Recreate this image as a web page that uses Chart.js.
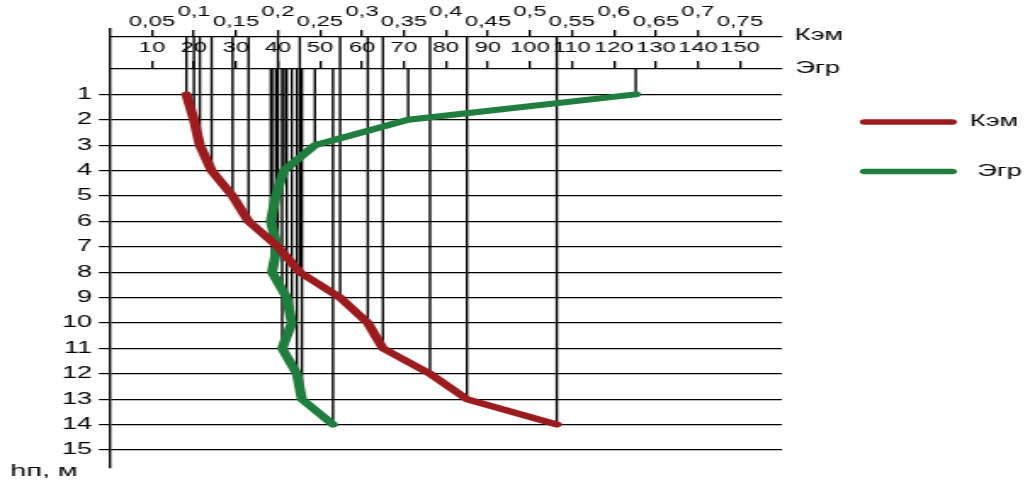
<!DOCTYPE html>
<html>
<head>
<meta charset="utf-8">
<script src="https://cdn.jsdelivr.net/npm/chart.js@4.4.1/dist/chart.umd.min.js"></script>
<style>
  html, body { margin: 0; padding: 0; background: #fff; overflow: hidden; }
  #wrap { width: 1030px; height: 483px; }
  /* the original picture is stretched sideways, so draw narrow and stretch */
  #profileChart { transform: scaleX(1.6997); transform-origin: 0 0; }
</style>
</head>
<body>
<div id="wrap"><canvas id="profileChart" width="606" height="483" style="width:606px;height:483px"></canvas></div>
<script>
const depth = [1, 2, 3, 4, 5, 6, 7, 8, 9, 10, 11, 12, 13, 14];
const kem = [0.091, 0.1, 0.107, 0.121, 0.146, 0.165, 0.2, 0.226, 0.274, 0.307, 0.325, 0.381, 0.425, 0.532];
const egr = [125.2, 71, 48.8, 41.4, 39.5, 38.3, 39.8, 38.6, 42.1, 43.3, 41, 44.5, 45.7, 53.1];

const depthTicks = [1, 2, 3, 4, 5, 6, 7, 8, 9, 10, 11, 12, 13, 14, 15];
const egrTicks = [10, 20, 30, 40, 50, 60, 70, 80, 90, 100, 110, 120, 130, 140, 150];
const kemTicks = [0.05, 0.1, 0.15, 0.2, 0.25, 0.3, 0.35, 0.4, 0.45, 0.5, 0.55, 0.6, 0.65, 0.7, 0.75];

Chart.defaults.font.family = '"Liberation Sans", Arial, sans-serif';
Chart.defaults.color = "#000";

const extras = {
  id: "extras",
  beforeDatasetsDraw(chart) {
    const ctx = chart.ctx;
    const area = chart.chartArea;
    ctx.save();
    ctx.strokeStyle = "#000";
    ctx.lineWidth = 1.4;
    // drop lines from each point up to its own axis
    chart.data.datasets.forEach((ds, i) => {
      const top = ds.xAxisID === "xk" ? chart.scales.xk.bottom : area.top;
      chart.getDatasetMeta(i).data.forEach((pt) => {
        ctx.beginPath();
        ctx.moveTo(pt.x, pt.y);
        ctx.lineTo(pt.x, top);
        ctx.stroke();
      });
    });
    ctx.restore();
  },
  afterDraw(chart) {
    const ctx = chart.ctx;
    const area = chart.chartArea;
    const kemLine = chart.scales.xk.bottom;
    ctx.save();
    // left axis goes up through both top scales
    ctx.strokeStyle = "#000";
    ctx.lineWidth = 1.4;
    ctx.beginPath();
    ctx.moveTo(area.left, kemLine - 9);
    ctx.lineTo(area.left, area.top);
    ctx.stroke();

    ctx.fillStyle = "#000";
    ctx.textBaseline = "middle";
    ctx.textAlign = "left";
    ctx.font = '16px "Liberation Sans", Arial, sans-serif';
    ctx.fillText("Кэм", area.right + 7.6, kemLine - 1.5);
    ctx.fillText("Эгр", area.right + 8, area.top - 0.5);

    ctx.font = '17px "Liberation Sans", Arial, sans-serif';
    ctx.fillText("hп, м", 6, 471);

    // legend
    chart.data.datasets.forEach((ds, i) => {
      const y = 122 + i * 49.5;
      ctx.strokeStyle = ds.borderColor;
      ctx.lineWidth = 5.5;
      ctx.lineCap = "round";
      ctx.beginPath();
      ctx.moveTo(508.6, y);
      ctx.lineTo(560.2, y);
      ctx.stroke();
      ctx.font = '16px "Liberation Sans", Arial, sans-serif';
      ctx.fillText(ds.label, i === 0 ? 570.6 : 575, y);
    });
    ctx.restore();
  },
};

const ctx = document.getElementById("profileChart").getContext("2d");

profileChart = new Chart(ctx, {
  type: "line",
  data: {
    datasets: [
      {
        label: "Кэм",
        data: depth.map((d, i) => ({ x: kem[i], y: d })),
        xAxisID: "xk",
        yAxisID: "y",
        borderColor: "#9b1b1f",
        borderWidth: 6,
        borderCapStyle: "round",
        borderJoinStyle: "round",
        pointRadius: 0,
        fill: false,
      },
      {
        label: "Эгр",
        data: depth.map((d, i) => ({ x: egr[i], y: d })),
        xAxisID: "xe",
        yAxisID: "y",
        borderColor: "#1f7d3d",
        borderWidth: 6,
        borderCapStyle: "round",
        borderJoinStyle: "round",
        pointRadius: 0,
        fill: false,
      },
    ],
  },
  options: {
    responsive: false,
    animation: false,
    devicePixelRatio: 1,
    layout: { padding: { left: 0, right: 146, top: 0, bottom: 15 } },
    plugins: {
      legend: { display: false },
      tooltip: { enabled: false },
    },
    scales: {
      y: {
        type: "linear",
        position: "left",
        reverse: true,
        min: 0,
        max: 15.71,
        afterBuildTicks: (scale) => {
          scale.ticks = depthTicks.map((v) => ({ value: v }));
        },
        afterFit: (scale) => {
          scale.width = 64.7;
        },
        ticks: {
          font: { size: 16 },
          padding: 4,
        },
        grid: {
          color: "#000",
          lineWidth: 1.2,
          tickLength: 6.5,
        },
        border: { color: "#000", width: 1.4 },
      },
      xe: {
        type: "linear",
        position: "top",
        weight: 0,
        min: 0,
        max: 160,
        afterBuildTicks: (scale) => {
          scale.ticks = egrTicks.map((v) => ({ value: v }));
        },
        afterFit: (scale) => {
          scale.height = 32;
        },
        ticks: {
          autoSkip: false,
          maxRotation: 0,
          font: { size: 14 },
          padding: 4,
        },
        grid: {
          drawOnChartArea: false,
          color: "#000",
          lineWidth: 1.3,
          tickLength: 8,
        },
        border: { color: "#000", width: 1.2 },
      },
      xk: {
        type: "linear",
        position: "top",
        weight: 1,
        min: 0,
        max: 0.8,
        afterBuildTicks: (scale) => {
          scale.ticks = kemTicks.map((v) => ({ value: v }));
        },
        afterFit: (scale) => {
          scale.height = 37;
        },
        ticks: {
          autoSkip: false,
          maxRotation: 0,
          font: { size: 14, lineHeight: "10px" },
          padding: 3,
          callback: (value) => {
            const s = String(value).replace(".", ",");
            // every 0,1 sits one row higher
            return Math.round(value * 100) % 10 === 0 ? [s, ""] : s;
          },
        },
        grid: {
          drawOnChartArea: false,
          color: "#000",
          lineWidth: 1.3,
          tickLength: 7,
        },
        border: { color: "#000", width: 1.2 },
      },
    },
  },
  plugins: [extras],
});
</script>
</body>
</html>
